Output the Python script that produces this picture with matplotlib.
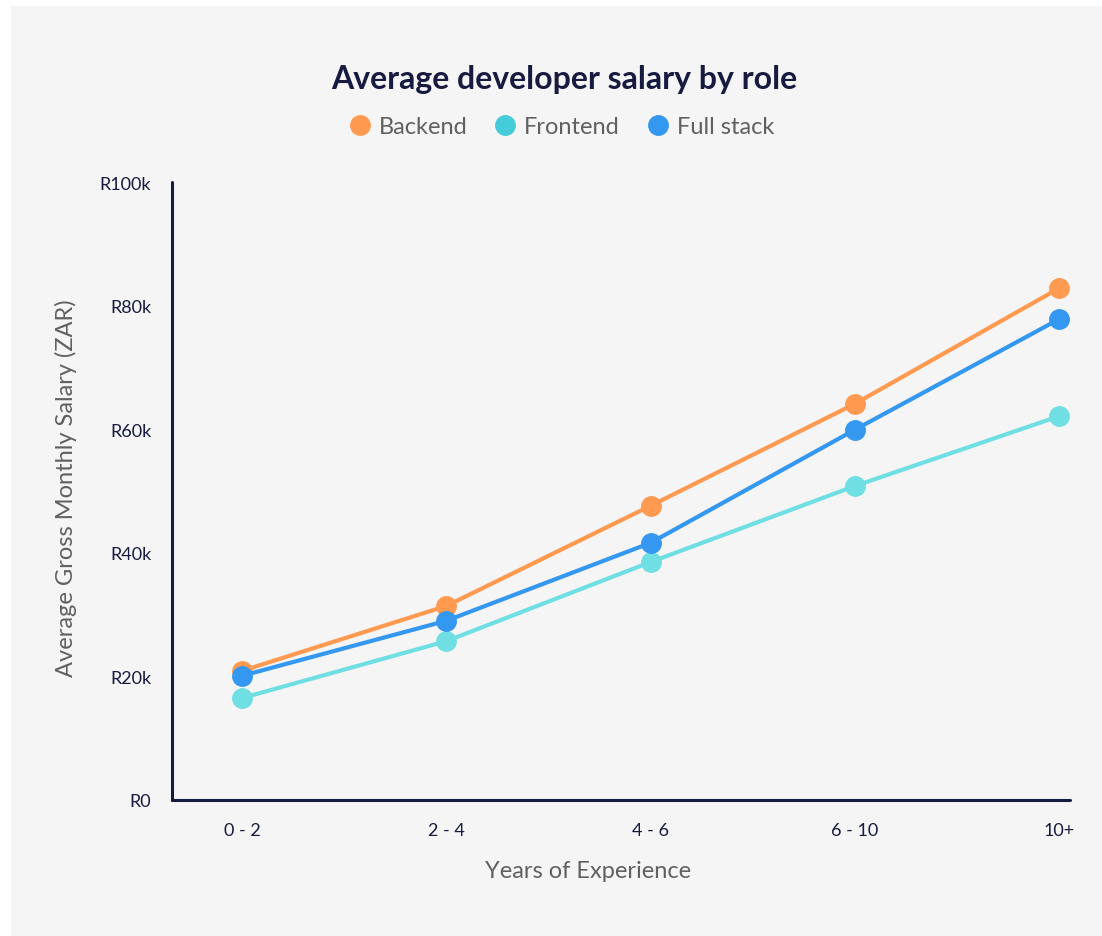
import matplotlib.pyplot as plt
from matplotlib.lines import Line2D
from matplotlib.patches import Rectangle
from matplotlib.ticker import FuncFormatter

plt.rcParams['font.family'] = ['Lato', 'DejaVu Sans']

experience = ['0 - 2', '2 - 4', '4 - 6', '6 - 10', '10+']
backend = [20.9, 31.4, 47.6, 64.1, 82.8]
frontend = [16.5, 25.7, 38.5, 50.8, 62.1]
fullstack = [20.1, 29.0, 41.6, 59.9, 77.8]

navy = '#161b3f'
grey = '#606060'

fig = plt.figure(figsize=(11.02, 9.37), dpi=100, facecolor='white')
fig.patches.append(Rectangle((11 / 1102, 0), 1, 1 - 7 / 937, transform=fig.transFigure,
                             facecolor='#f5f5f5', edgecolor='none', zorder=-10))

ax = fig.add_axes([172 / 1102, 1 - 801 / 937, 898 / 1102, 618 / 937])
ax.set_facecolor('none')

x = range(len(experience))
ax.plot(x, backend, color='#ff9a50', lw=3, marker='o', ms=14, zorder=3)
ax.plot(x, frontend, color='#6fdfe4', lw=3, marker='o', ms=14, zorder=2)
ax.plot(x, fullstack, color='#3497f0', lw=3, marker='o', ms=14, zorder=4)

ax.set_xlim(-0.343, 4.054)
ax.set_ylim(0, 100)
ax.set_xticks(list(x))
ax.set_xticklabels(experience)
ax.set_yticks([0, 20, 40, 60, 80, 100])
ax.yaxis.set_major_formatter(FuncFormatter(lambda v, p: 'R0' if v == 0 else f'R{v:.0f}k'))
ax.tick_params(length=0, labelsize=13, colors=navy, pad=16)
ax.tick_params(axis='y', pad=15)

for s in ['top', 'right']:
    ax.spines[s].set_visible(False)
for s in ['left', 'bottom']:
    ax.spines[s].set_color(navy)
    ax.spines[s].set_linewidth(2.2)
    ax.spines[s].set_capstyle('round')

ax.set_xlabel('Years of Experience', fontsize=17, color=grey)
ax.xaxis.set_label_coords((588 - 172) / 898, -(872 - 801) / 618)
ax.xaxis.label.set_va('center')
ax.set_ylabel('Average Gross Monthly Salary (ZAR)', fontsize=17, color=grey)
ax.yaxis.set_label_coords(-(172 - 66) / 898, (801 - 488) / 618)
ax.yaxis.label.set_va('center')

fig.text(564 / 1102, 1 - 80 / 937, 'Average developer salary by role', ha='center', va='center',
         fontsize=23, fontweight='bold', color=navy)

handles = [Line2D([], [], ls='none', marker='o', ms=14, color=c)
           for c in ['#ff9a50', '#45ccdb', '#3497f0']]
fig.legend(handles, ['Backend', 'Frontend', 'Full stack'], loc='center',
           bbox_to_anchor=(561 / 1102, 1 - 128 / 937), ncol=3, frameon=False,
           fontsize=17, labelcolor=grey, handletextpad=0.3, columnspacing=1.1,
           handlelength=1.0)

fig.savefig('out.png', dpi=100, facecolor='white')
